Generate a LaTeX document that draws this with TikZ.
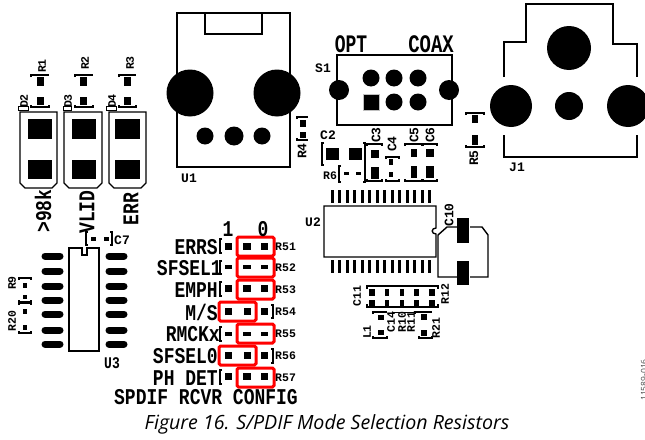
\documentclass[tikz,border=0pt]{standalone}
\usepackage{fontspec}
\usepackage{graphicx}
\setmainfont{Open Sans}
\setmonofont{Liberation Mono}
\usetikzlibrary{shapes,arrows}

\tikzset{
  outline/.style={line width=1.4pt},
  silkbig/.style={draw=none,inner sep=0pt,font=\ttfamily\bfseries\fontsize{18}{18}\selectfont},
  silkmed/.style={draw=none,inner sep=0pt,font=\ttfamily\bfseries\fontsize{13}{13}\selectfont},
  silksmall/.style={draw=none,inner sep=0pt,font=\ttfamily\bfseries\fontsize{11.5}{11.5}\selectfont},
  redbox/.style={draw=red,line width=3pt,rounded corners=1.5pt},
}
\newcommand{\tall}[1]{\scalebox{1}[1.25]{#1}}

\begin{document}
\begin{tikzpicture}[x=1pt,y=-1pt]
  %\draw[step=50pt,gray,very thin] (0,0) grid (645,439);
  \useasboundingbox (0,0) rectangle (645,439);
  \clip (0,0) rectangle (645,439);

  % LEDs and their resistors
  \draw[outline] (20,112) -- (57,112) -- (57,183) -- (52,188) -- (25,188) -- (20,183) -- cycle;
  \draw[outline] (64,112) -- (102,112) -- (102,183) -- (97,188) -- (69,188) -- (64,183) -- cycle;
  \draw[outline] (109,112) -- (146,112) -- (146,183) -- (141,188) -- (114,188) -- (109,183) -- cycle;
  \fill (28,119) rectangle (52,139);
  \fill (28,160) rectangle (52,179);
  \fill (72,119) rectangle (96,139);
  \fill (72,160) rectangle (96,179);
  \fill (115,119) rectangle (140,139);
  \fill (115,160) rectangle (140,179);

  \fill (37,77) rectangle (44,86);
  \fill (37,97) rectangle (44,105);
  \fill (80,77) rectangle (87,86);
  \fill (80,97) rectangle (87,105);
  \fill (124,77) rectangle (131,86);
  \fill (124,97) rectangle (131,105);
  \draw[outline] (31,77) -- (31,75) -- (49,75);
  \draw[outline] (31,105) -- (31,107) -- (49,107) -- (49,105);
  \draw[outline] (75,77) -- (75,75) -- (93,75);
  \draw[outline] (75,105) -- (75,107) -- (93,107) -- (93,105);
  \draw[outline] (119,77) -- (119,75) -- (136,75);
  \draw[outline] (119,105) -- (119,107) -- (136,107) -- (136,105);
  \draw[thick,fill=white] (18,106) rectangle (28,110);
  \draw[thick,fill=white] (63,106) rectangle (71,110);
  \draw[thick,fill=white] (106,106) rectangle (116,110);

  \node[silksmall,rotate=90] (lblr1) at (42,66){R1};
  \node[silksmall,rotate=90] (lblr2) at (85,63){R2};
  \node[silksmall,rotate=90] (lblr3) at (130,63){R3};
  \node[silksmall,rotate=90] (lbld2) at (24,101){D2};
  \node[silksmall,rotate=90] (lbld3) at (68,101){D3};
  \node[silksmall,rotate=90] (lbld4) at (112,101){D4};
  \node[silkbig,rotate=90] (lbl98k) at (43,211){\tall{>98k}};
  \node[silkbig,rotate=90] (lblvlid) at (87,212){\tall{VLID}};
  \node[silkbig,rotate=90] (lblerr) at (131,209){\tall{ERR}};

  % U1
  \draw[outline] (177,13) rectangle (290,167);
  \draw[outline] (205,13) rectangle (262,34);
  \fill (190,93) circle (23.5);
  \fill (277,93) circle (23.5);
  \fill (205,136) circle (8.5);
  \fill (234,136) circle (9.5);
  \fill (262,136) circle (8.5);
  \node[silkmed] (lblu1) at (189,178){U1};

  % R4
  \fill (300,120) rectangle (306,127);
  \fill (300,132) rectangle (306,138);
  \draw[outline] (297,119) -- (297,117) -- (308,117);
  \draw[outline] (297,138) -- (297,140) -- (308,140);
  \node[silkmed,rotate=90] (lblr4) at (302,151){R4};

  % S1
  \draw[outline] (337,55) rectangle (452,125);
  \fill (339,90) circle (10);
  \fill (449,90) circle (10);
  \fill (371,78) circle (8.5);
  \fill (394,78) circle (8.5);
  \fill (418,78) circle (8.5);
  \draw[gray!50,fill=black] (363,94) rectangle (379,110);
  \fill (394,102) circle (8.5);
  \fill (418,102) circle (8.5);
  \node[silkmed] (lbls1) at (323,68){S1};
  \node[silkbig] (lblopt) at (351,44){\scalebox{1}[1.4]{OPT}};
  \node[silkbig] (lblcoax) at (431,44){\scalebox{1.05}[1.4]{COAX}};

  % C2, R6 and the C3 to C6 group
  \fill (326,148) rectangle (339,160);
  \fill (349,148) rectangle (362,160);
  \draw[outline] (324,143) -- (322,143) -- (322,165) -- (324,165);
  \fill (344,172) rectangle (349,175);
  \fill (356,172) rectangle (361,175);
  \draw[outline] (341,166) -- (339,166) -- (339,182) -- (341,182);
  \draw[outline] (363,143) -- (365,143) -- (365,182) -- (363,182);
  \node[silkmed] (lblc2) at (328,135){C2};
  \node[silksmall] (lblr6) at (330,176){R6};

  \fill (371,150) rectangle (379,158);
  \fill (371,167) rectangle (379,179);
  \fill (389,159) rectangle (393,165);
  \fill (389,172) rectangle (393,177);
  \fill (411,149) rectangle (417,157);
  \fill (411,166) rectangle (417,178);
  \fill (426,149) rectangle (434,157);
  \fill (426,166) rectangle (434,178);
  \draw[outline] (367,146) -- (367,144) -- (382,144) -- (382,146);
  \draw[outline] (367,179) -- (367,181) -- (382,181) -- (382,179);
  \draw[outline] (386,159) -- (386,157) -- (399,157) -- (399,159);
  \draw[outline] (386,179) -- (386,181) -- (399,181) -- (399,179);
  \draw[outline] (405,146) -- (405,144) -- (422,144) -- (422,146);
  \draw[outline] (405,179) -- (405,181) -- (422,181) -- (422,179);
  \draw[outline] (423,146) -- (423,144) -- (437,144) -- (437,146);
  \draw[outline] (423,179) -- (423,181) -- (437,181) -- (437,179);
  \node[silkmed,rotate=90] (lblc3) at (376,135){C3};
  \node[silkmed,rotate=90] (lblc4) at (392,144){C4};
  \node[silkmed,rotate=90] (lblc5) at (414,135){C5};
  \node[silkmed,rotate=90] (lblc6) at (430,135){C6};

  % R5
  \fill (472,115) rectangle (478,123);
  \fill (472,135) rectangle (478,145);
  \draw[outline] (466,115) -- (466,113) -- (484,113) -- (484,115);
  \draw[outline] (466,145) -- (466,147) -- (484,147) -- (484,145);
  \node[silkmed,rotate=90] (lblr5) at (474,158){R5};

  % J1
  \draw[outline] (504,77) -- (504,42) -- (526,42) -- (526,4) -- (613,4) -- (613,44) -- (637,44) -- (637,77);
  \draw[outline] (504,135) -- (504,157) -- (637,157) -- (637,135);
  \fill (569,48) circle (22);
  \fill (511,106) circle (21);
  \fill (569,106) circle (14);
  \fill (628,106) circle (21);
  \node[silkmed] (lblj1) at (517,167){J1};

  % U2
  \draw[outline] (324,206) -- (436,206) -- (436,228) .. controls (431,228) and (431,234) .. (436,234) -- (436,257) -- (324,257) -- cycle;
  \draw[line width=3pt] (332,190) -- (332,203);
  \draw[line width=3pt] (339.5,190) -- (339.5,203);
  \draw[line width=3pt] (347,190) -- (347,203);
  \draw[line width=3pt] (354.5,190) -- (354.5,203);
  \draw[line width=3pt] (362,190) -- (362,203);
  \draw[line width=3pt] (369.5,190) -- (369.5,203);
  \draw[line width=3pt] (377,190) -- (377,203);
  \draw[line width=3pt] (384.5,190) -- (384.5,203);
  \draw[line width=3pt] (392,190) -- (392,203);
  \draw[line width=3pt] (399.5,190) -- (399.5,203);
  \draw[line width=3pt] (407,190) -- (407,203);
  \draw[line width=3pt] (414.5,190) -- (414.5,203);
  \draw[line width=3pt] (422,190) -- (422,203);
  \draw[line width=3pt] (429.5,190) -- (429.5,203);
  \draw[line width=3pt] (332,260) -- (332,273);
  \draw[line width=3pt] (339.5,260) -- (339.5,273);
  \draw[line width=3pt] (347,260) -- (347,273);
  \draw[line width=3pt] (354.5,260) -- (354.5,273);
  \draw[line width=3pt] (362,260) -- (362,273);
  \draw[line width=3pt] (369.5,260) -- (369.5,273);
  \draw[line width=3pt] (377,260) -- (377,273);
  \draw[line width=3pt] (384.5,260) -- (384.5,273);
  \draw[line width=3pt] (392,260) -- (392,273);
  \draw[line width=3pt] (399.5,260) -- (399.5,273);
  \draw[line width=3pt] (407,260) -- (407,273);
  \draw[line width=3pt] (414.5,260) -- (414.5,273);
  \draw[line width=3pt] (422,260) -- (422,273);
  \draw[line width=3pt] (429.5,260) -- (429.5,273);
  \node[silkmed] (lblu2) at (313,222){U2};

  % C10
  \draw[outline] (457,227) -- (447,227) -- (438,235) -- (438,277) -- (457,277);
  \draw[outline] (470,227) -- (482,227) -- (488,235) -- (488,277) -- (470,277);
  \fill (457,218) rectangle (469,243);
  \fill (457,261) rectangle (469,285);
  \node[silkmed,rotate=90] (lblc10) at (449,215){C10};

  % C11, R12 and the small parts under U2
  \draw[outline] (367,289) -- (367,286) -- (438,286) -- (438,289);
  \draw[outline] (367,304) -- (367,307) -- (438,307) -- (438,304);
  \fill (369,289) rectangle (375,296);
  \fill (385,289) rectangle (389,296);
  \fill (400,289) rectangle (404,296);
  \fill (414,289) rectangle (419,296);
  \fill (429,289) rectangle (435,296);
  \fill (369,300) rectangle (375,306);
  \fill (385,300) rectangle (389,306);
  \fill (400,300) rectangle (404,306);
  \fill (414,300) rectangle (419,306);
  \fill (429,300) rectangle (435,306);
  \node[silksmall,rotate=90] (lblc11) at (357,296){C11};
  \node[silksmall,rotate=90] (lblr12) at (445,294){R12};

  \fill (378,315) rectangle (384,320);
  \fill (378,330) rectangle (384,335);
  \draw[outline] (373,314) -- (373,312) -- (387,312);
  \draw[outline] (373,336) -- (373,338) -- (387,338) -- (387,336);
  \fill (421,314) rectangle (427,320);
  \fill (421,330) rectangle (427,336);
  \draw[outline] (415,314) -- (415,312) -- (432,312);
  \draw[outline] (419,336) -- (419,338) -- (432,338) -- (432,336);
  \draw[thick] (392,312) -- (416,312);
  \node[silksmall,rotate=90] (lbll1) at (367,332){L1};
  \node[silksmall,rotate=90] (lblc14) at (391,322){C14};
  \node[silksmall,rotate=90] (lblr10) at (402,322){R10};
  \node[silksmall,rotate=90] (lblr11) at (411,322){R11};
  \node[silksmall,rotate=90] (lblr21) at (436,328){R21};

  % U3
  \draw[outline] (69,248) -- (82,248) -- (82,255) -- (87,255) -- (87,248) -- (99,248) -- (99,351) -- (69,351) -- cycle;
  \draw[line width=7pt,line cap=round] (45,256) -- (60,256);
  \draw[line width=7pt,line cap=round] (45,271) -- (60,271);
  \draw[line width=7pt,line cap=round] (45,286) -- (60,286);
  \draw[line width=7pt,line cap=round] (45,300) -- (60,300);
  \draw[line width=7pt,line cap=round] (45,314) -- (60,314);
  \draw[line width=7pt,line cap=round] (45,330) -- (60,330);
  \draw[line width=7pt,line cap=round] (45,344) -- (60,344);
  \draw[line width=7pt,line cap=round] (109,256) -- (124,256);
  \draw[line width=7pt,line cap=round] (109,271) -- (124,271);
  \draw[line width=7pt,line cap=round] (109,286) -- (124,286);
  \draw[line width=7pt,line cap=round] (109,300) -- (124,300);
  \draw[line width=7pt,line cap=round] (109,314) -- (124,314);
  \draw[line width=7pt,line cap=round] (109,330) -- (124,330);
  \draw[line width=7pt,line cap=round] (109,344) -- (124,344);
  \node[silkmed] (lblu3) at (112,363){\tall{U3}};

  % C7, R9, R20
  \fill (91,237) rectangle (96,241);
  \fill (104,237) rectangle (109,241);
  \draw[outline] (88,232) -- (86,232) -- (86,245) -- (88,245);
  \draw[outline] (110,232) -- (112,232) -- (112,245) -- (110,245);
  \node[silkmed] (lblc7) at (122,240){C7};
  \fill (23,283) rectangle (27,288);
  \fill (23,295) rectangle (27,299);
  \fill (23,309) rectangle (27,314);
  \fill (23,325) rectangle (27,330);
  \draw[outline] (19,280) -- (19,278) -- (31,278) -- (31,280);
  \draw[outline] (19,300) -- (19,302) -- (31,302) -- (31,300);
  \draw[outline] (19,305) -- (19,303) -- (31,303) -- (31,305);
  \draw[outline] (19,331) -- (19,333) -- (31,333) -- (31,331);
  \node[silksmall,rotate=90] (lblr9) at (12,283){R9};
  \node[silksmall,rotate=90] (lblr20) at (12,321){R20};

  % mode selection resistors
  \fill (225,243) rectangle (232,250);
  \fill (243,243) rectangle (251,250);
  \fill (261,243) rectangle (268,250);
  \fill (225,265) rectangle (232,269);
  \fill (243,265) rectangle (251,269);
  \fill (261,265) rectangle (268,269);
  \fill (225,285) rectangle (232,292);
  \fill (243,285) rectangle (251,292);
  \fill (261,285) rectangle (268,292);
  \fill (225,308) rectangle (232,315);
  \fill (244,308) rectangle (251,315);
  \fill (261,308) rectangle (268,315);
  \fill (225,332) rectangle (232,336);
  \fill (243,332) rectangle (251,336);
  \fill (261,332) rectangle (268,336);
  \fill (225,352) rectangle (232,359);
  \fill (244,352) rectangle (251,359);
  \fill (261,352) rectangle (268,359);
  \fill (225,373) rectangle (232,380);
  \fill (243,373) rectangle (251,380);
  \fill (261,373) rectangle (268,380);

  \draw[redbox] (237,237) rectangle (274,256);
  \draw[redbox] (237,258) rectangle (274,277);
  \draw[redbox] (237,280) rectangle (274,299);
  \draw[redbox] (219,302) rectangle (256,321);
  \draw[redbox] (237,324) rectangle (274,343);
  \draw[redbox] (219,346) rectangle (256,365);
  \draw[redbox] (237,368) rectangle (274,387);

  \draw[outline] (222,239) -- (220,239) -- (220,253) -- (222,253);
  \draw[outline] (222,261) -- (220,261) -- (220,274) -- (222,274);
  \draw[outline] (222,282) -- (220,282) -- (220,296) -- (222,296);
  \draw[outline] (271,305) -- (273,305) -- (273,318) -- (271,318);
  \draw[outline] (222,327) -- (220,327) -- (220,341) -- (222,341);
  \draw[outline] (271,349) -- (273,349) -- (273,363) -- (271,363);
  \draw[outline] (222,370) -- (220,370) -- (220,384) -- (222,384);

  \node[silkbig] (lbl1) at (228,229){\tall{1}};
  \node[silkbig] (lbl0) at (263,229){\tall{0}};
  \node[silkbig,anchor=east] (lblerrs) at (218,247){\tall{ERRS}};
  \node[silkbig,anchor=east] (lblsfsel1) at (222,268){\tall{SFSEL1}};
  \node[silkbig,anchor=east] (lblemph) at (218,290){\tall{EMPH}};
  \node[silkbig,anchor=east] (lblms) at (218,312){\tall{M/S}};
  \node[silkbig,anchor=east] (lblrmckx) at (220,334){\tall{RMCKx}};
  \node[silkbig,anchor=east] (lblsfsel0) at (218,356){\tall{SFSEL0}};
  \node[silkbig,anchor=east] (lblphdet) at (218,378){\tall{PH DET}};
  \node[silkbig,anchor=east] (lblconfig) at (298,397){\tall{SPDIF RCVR CONFIG}};

  \node[silksmall,anchor=west] (lblr51) at (275,247){R51};
  \node[silksmall,anchor=west] (lblr52) at (275,268){R52};
  \node[silksmall,anchor=west] (lblr53) at (275,290){R53};
  \node[silksmall,anchor=west] (lblr54) at (275,312){R54};
  \node[silksmall,anchor=west] (lblr55) at (275,334){R55};
  \node[silksmall,anchor=west] (lblr56) at (275,356){R56};
  \node[silksmall,anchor=west] (lblr57) at (275,378){R57};

  % caption and drawing number
  \node[draw=none,inner sep=0pt] (caption) at (327,424){\fontsize{19.6}{19.6}\selectfont\itshape Figure 16. S/PDIF Mode Selection Resistors};
  \node[draw=none,inner sep=0pt,rotate=90,text=black!70] (drawno) at (644,380){\fontsize{8.5}{8.5}\selectfont 11589-016};
\end{tikzpicture}
\end{document}
